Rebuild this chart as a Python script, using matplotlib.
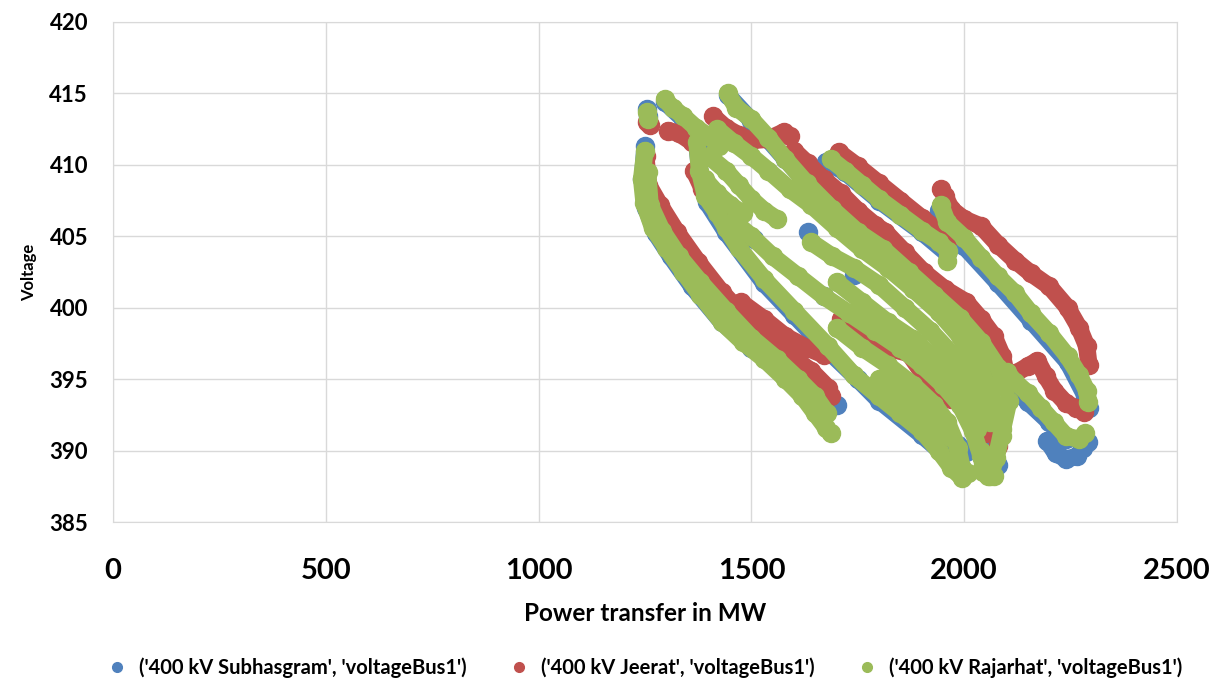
import matplotlib
matplotlib.use("Agg")
import matplotlib.pyplot as plt
from matplotlib.lines import Line2D

# series names and colours
series_names = [
    "('400 kV Subhasgram', 'voltageBus1')",
    "('400 kV Jeerat', 'voltageBus1')",
    "('400 kV Rajarhat', 'voltageBus1')",
]
series_colors = ["#4F81BD", "#C0504D", "#9BBB59"]

x_ticks = [0, 500, 1000, 1500, 2000, 2500]
y_ticks = [385, 390, 395, 400, 405, 410, 415, 420]

# (MW, kV) traces, one list per run of points
subhasgram_traces = [
    [(1254, 413.9), (1258, 413.4)],
    [(1250, 411.3), (1244, 409.0), (1252, 407.0), (1275, 405.2), (1310, 403.6), (1360, 401.5),
     (1430, 399.0), (1500, 397.2), (1560, 395.8), (1610, 394.6), (1650, 393.8), (1690, 393.4), (1702, 393.2)],
    [(1297, 414.4), (1340, 413.2), (1400, 411.8)],
    [(1372, 411.4), (1380, 409.3), (1395, 407.4), (1440, 405.3), (1530, 401.7), (1600, 399.5),
     (1680, 397.0), (1750, 395.0), (1800, 393.5), (1900, 391.1), (1950, 389.8)],
    [(1505, 404.8)],
    [(1632, 405.3)],
    [(1670, 400.8)],
    [(1740, 402.3)],
    [(1444, 414.9), (1500, 413.1), (1580, 410.4), (1690, 406.8), (1810, 404.0), (1930, 400.8),
     (1990, 399.1), (2040, 397.4), (2080, 395.6)],
    [(1945, 391.8), (1960, 390.9), (1985, 390.4), (2005, 389.9), (2023, 390.3)],
    [(2055, 390.4), (2065, 389.4), (2080, 389.0)],
    [(2195, 390.7), (2215, 389.8), (2240, 389.4), (2265, 389.6), (2280, 390.2), (2290, 390.6)],
    [(1675, 410.2), (1720, 409.5), (1800, 407.5), (1900, 405.3), (1960, 403.8)],
    [(1940, 406.8), (1965, 405.5), (2000, 404.3), (2080, 401.7), (2157, 399.1), (2243, 396.2),
     (2285, 393.8), (2293, 393.0)],
    [(2100, 394.8), (2150, 393.4), (2200, 392.0), (2240, 390.8)],
]

jeerat_traces = [
    [(1254, 413.0), (1262, 412.8)],
    [(1252, 410.6), (1258, 408.6), (1285, 407.2), (1325, 405.3), (1375, 403.2), (1430, 401.1),
     (1490, 399.2), (1550, 397.6), (1610, 396.3), (1655, 395.0), (1688, 393.8)],
    [(1520, 398.2), (1580, 396.8), (1640, 395.6), (1680, 394.4)],
    [(1305, 412.4), (1330, 412.2), (1360, 411.6)],
    [(1365, 409.6), (1385, 408.3), (1405, 407.4), (1425, 406.9)],
    [(1410, 413.4), (1440, 412.6), (1470, 412.1), (1500, 411.7), (1540, 411.8), (1576, 412.3), (1590, 412.0)],
    [(1600, 411.0), (1632, 410.1), (1670, 409.0), (1710, 408.0), (1750, 406.8), (1790, 405.8),
     (1815, 405.3), (1860, 403.9), (1905, 402.5), (1955, 401.3), (2005, 400.4), (2040, 399.2),
     (2070, 398.0), (2090, 396.6), (2100, 395.2), (2120, 395.4), (2149, 395.9), (2172, 396.3),
     (2192, 395.2), (2212, 394.2), (2240, 393.3), (2262, 393.0), (2282, 392.7)],
    [(1705, 410.9), (1750, 409.9), (1800, 408.7), (1850, 407.5), (1900, 406.3), (1940, 405.4), (1962, 404.8)],
    [(1945, 408.3), (1955, 407.8), (1970, 406.9), (2000, 406.2), (2040, 405.7), (2080, 404.4),
     (2120, 403.3), (2157, 402.4), (2200, 401.5), (2243, 400.0), (2270, 398.6), (2288, 397.3), (2293, 396.0)],
    [(1475, 400.4), (1530, 399.2), (1580, 398.0), (1630, 397.2), (1670, 396.7)],
    [(1710, 399.2), (1750, 398.3), (1790, 397.4), (1830, 397.1), (1870, 396.8), (1905, 395.3),
     (1945, 394.2), (1970, 393.6)],
    [(1995, 393.8), (2025, 393.2), (2063, 392.6), (2075, 391.0), (2080, 390.3)],
    [(2020, 395.0), (2035, 393.0), (2050, 391.2)],
]

rajarhat_traces = [
    [(1254, 413.7), (1258, 413.2)],
    [(1250, 411.0), (1242, 409.0), (1248, 407.3), (1268, 405.6), (1300, 404.2), (1340, 402.5),
     (1380, 400.9), (1430, 399.0), (1480, 397.6), (1530, 396.4), (1580, 395.0), (1620, 393.8),
     (1650, 392.6), (1675, 391.6), (1686, 391.2)],
    [(1256, 409.5), (1262, 407.2), (1290, 405.4), (1330, 403.6), (1380, 401.8), (1440, 399.8),
     (1500, 397.9), (1560, 396.4), (1610, 395.0), (1650, 393.8), (1678, 392.6)],
    [(1296, 414.6), (1315, 414.0), (1340, 413.4), (1370, 412.6), (1400, 412.0), (1425, 411.3)],
    [(1372, 411.6), (1378, 409.6), (1392, 407.8), (1420, 406.6), (1440, 405.6), (1470, 404.2),
     (1530, 402.0), (1600, 399.8), (1680, 397.3), (1740, 395.3), (1800, 393.8), (1850, 392.6),
     (1900, 391.4), (1940, 390.0), (1970, 388.8), (1995, 388.1), (2010, 388.4)],
    [(1444, 415.0), (1465, 414.0), (1500, 413.2), (1540, 411.9), (1580, 410.4), (1630, 408.7),
     (1690, 406.9), (1750, 405.3), (1810, 404.1), (1870, 402.5), (1930, 400.9), (1990, 399.3),
     (2040, 397.6), (2080, 395.8), (2096, 394.4)],
    [(1420, 412.5), (1460, 411.5), (1500, 410.6), (1540, 409.6), (1590, 408.3), (1640, 407.2),
     (1700, 405.6), (1760, 404.1), (1820, 402.8), (1880, 401.3), (1940, 399.7), (1990, 398.0),
     (2030, 396.2), (2060, 394.2), (2080, 392.4), (2090, 391.0)],
    [(1400, 410.6), (1440, 409.6), (1470, 408.6), (1500, 407.6), (1530, 406.8), (1560, 406.2)],
    [(1390, 409.0), (1420, 408.0), (1450, 407.2), (1480, 406.6)],
    [(1460, 406.0), (1500, 405.0), (1550, 403.6), (1610, 402.2), (1670, 400.8), (1730, 399.6),
     (1790, 398.4), (1850, 397.2), (1900, 396.0), (1950, 394.6), (1990, 393.2), (2020, 391.4),
     (2040, 389.6), (2055, 388.2), (2070, 388.2)],
    [(1700, 398.6), (1760, 397.2), (1820, 396.0), (1880, 394.6), (1930, 393.2), (1960, 392.0),
     (1985, 390.2), (1995, 388.8)],
    [(1800, 395.0), (1860, 393.6), (1920, 392.2), (1960, 391.0)],
    [(1640, 404.6), (1690, 403.6), (1740, 402.8), (1800, 401.6), (1860, 400.0), (1920, 398.4),
     (1970, 396.8), (2010, 395.0), (2040, 393.4), (2060, 392.0)],
    [(1700, 401.8), (1760, 400.4), (1820, 399.0), (1880, 397.8), (1940, 396.2), (1980, 394.8),
     (2010, 393.0), (2030, 391.5)],
    [(1686, 410.4), (1720, 409.6), (1760, 408.6), (1800, 407.6), (1850, 406.5), (1900, 405.4),
     (1940, 404.6), (1962, 404.0), (1960, 403.3)],
    [(1945, 407.2), (1960, 406.0), (2000, 404.9), (2040, 403.5), (2079, 402.2), (2120, 401.0),
     (2157, 399.6), (2200, 398.2), (2243, 396.6), (2270, 395.3), (2288, 394.2), (2292, 393.4)],
    [(2100, 395.5), (2120, 394.8), (2150, 394.0), (2180, 393.0), (2210, 392.0), (2240, 391.0),
     (2270, 390.8), (2285, 391.2)],
    [(2105, 393.5), (2090, 391.5), (2075, 389.5), (2060, 388.2), (2045, 388.5), (2040, 390.0)],
]

all_traces = [subhasgram_traces, jeerat_traces, rajarhat_traces]

font = ["Lato", "DejaVu Sans"]
plt.rcParams["font.family"] = font
plt.rcParams["font.weight"] = "bold"

fig = plt.figure(figsize=(12.14, 6.94), dpi=100)
ax = fig.add_axes([0.0931, 0.2478, 0.8764, 0.7205])

for traces, color in zip(all_traces, series_colors):
    for trace in traces:
        xs = [p[0] for p in trace]
        ys = [p[1] for p in trace]
        ax.plot(xs, ys, color=color, lw=12.5, marker="o", ms=13, mec=color,
                solid_capstyle="round", solid_joinstyle="round", zorder=3)

ax.set_xlim(0, 2500)
ax.set_ylim(385, 420)
ax.set_xticks(x_ticks)
ax.set_yticks(y_ticks)
ax.grid(True, color="#d9d9d9", lw=1)
ax.set_axisbelow(True)
for s in ax.spines.values():
    s.set_color("#d9d9d9")
ax.tick_params(length=0)
ax.tick_params(axis="x", labelsize=21, pad=26)
ax.tick_params(axis="y", labelsize=16, pad=18)
for lab in ax.get_xticklabels() + ax.get_yticklabels():
    lab.set_fontweight("bold")

ax.set_xlabel("Power transfer in MW", fontsize=17.5, fontweight="bold", labelpad=13)
ax.set_ylabel("Voltage", fontsize=12, fontweight="bold", labelpad=9)

handles = [Line2D([0], [0], marker="o", ls="", color=c, ms=7) for c in series_colors]
fig.legend(handles, series_names, loc="center", bbox_to_anchor=(0.527, 0.0375), ncol=3,
           frameon=False, handletextpad=0.1, columnspacing=1.6,
           prop={"weight": "bold", "size": 14.5})

fig.savefig("out.png", dpi=100)
